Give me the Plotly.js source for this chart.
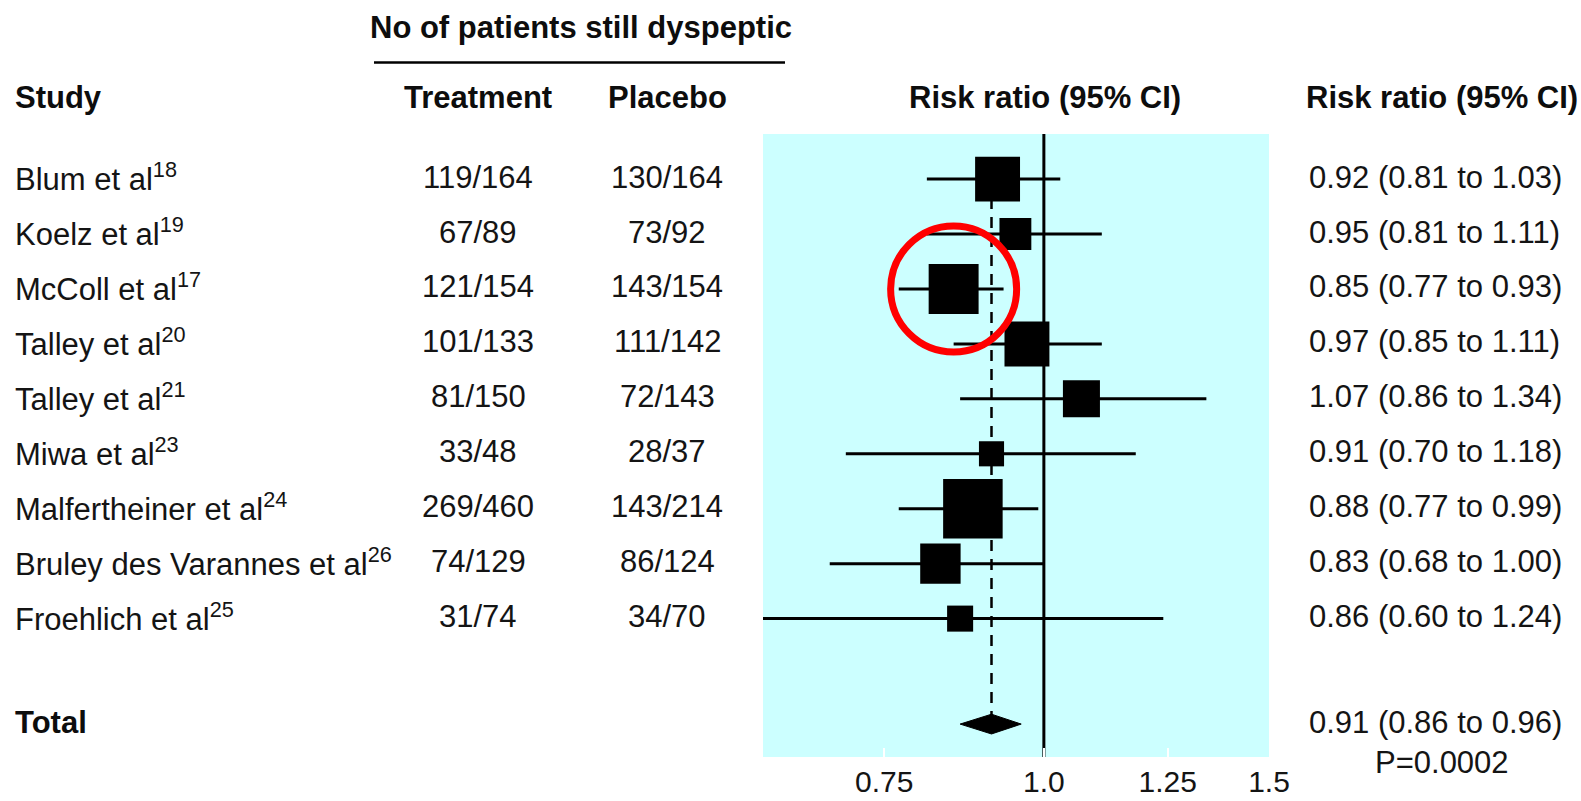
<!DOCTYPE html>
<html><head><meta charset="utf-8">
<script src="https://cdn.plot.ly/plotly-3.0.1.min.js"></script>
<style>html,body{margin:0;padding:0;background:#fff;}#chart{width:1581px;height:801px;}</style>
</head><body><div id="chart"></div>
<script>
// ---- data ----
const studyNames = ['Blum et al','Koelz et al','McColl et al','Talley et al','Talley et al','Miwa et al','Malfertheiner et al','Bruley des Varannes et al','Froehlich et al'];
const studyRefs = [18,19,17,20,21,23,24,26,25];
const treatment = ['119/164','67/89','121/154','101/133','81/150','33/48','269/460','74/129','31/74'];
const placebo = ['130/164','73/92','143/154','111/142','72/143','28/37','143/214','86/124','34/70'];
const riskRatio = [0.92,0.95,0.85,0.97,1.07,0.91,0.88,0.83,0.86];
const ciLow = [0.81,0.81,0.77,0.85,0.86,0.70,0.77,0.68,0.60];
const ciHigh = [1.03,1.11,0.93,1.11,1.34,1.18,0.99,1.00,1.24];
const weightPct = [13.1,6.6,16.2,13.1,8.9,4.1,23.0,10.6,4.4];
const totalRR = 0.91, totalLow = 0.86, totalHigh = 0.96, totalP = 'P=0.0002';
const tickVals = [0.75,1.0,1.25,1.5];
const tickText = ['0.75','1.0','1.25','1.5'];
const highlightIndex = 2;

// ---- layout helpers ----
const FONT = 'Liberation Sans, Arial, Helvetica, sans-serif';
const L = 763, R = 1269, T = 134, B = 757;
const px = x => (x - L) / (R - L);
const py = y => (B - y) / (B - T);
const rows = studyNames.map((_, i) => i);
const totalRow = 9.92;
const fmt = v => v.toFixed(2);
const rrLabel = (r, a, b) => fmt(r) + ' (' + fmt(a) + ' to ' + fmt(b) + ')';

const traces = [];
// line of no effect
traces.push({type:'scatter', mode:'lines', x:[1,1], y:[-2,12], line:{color:'#000', width:3}, hoverinfo:'skip'});
// dashed pooled line
traces.push({type:'scatter', mode:'lines', x:[totalRR,totalRR], y:[0,totalRow], line:{color:'#000', width:2.5, dash:'11px,8px'}, hoverinfo:'skip'});
// studies
traces.push({
  type:'scatter', mode:'markers', x:riskRatio, y:rows,
  marker:{symbol:'square', color:'#000', opacity:1, size:weightPct.map(w => 12.41*Math.sqrt(w)), line:{width:0}},
  error_x:{type:'data', symmetric:false, array:riskRatio.map((r,i)=>ciHigh[i]-r), arrayminus:riskRatio.map((r,i)=>r-ciLow[i]), width:0, thickness:3, color:'#000'},
  hoverinfo:'skip'
});
// pooled diamond
const dh = 0.18;
traces.push({type:'scatter', mode:'lines', x:[totalLow,totalRR,totalHigh,totalRR,totalLow], y:[totalRow,totalRow-dh,totalRow,totalRow+dh,totalRow], fill:'toself', fillcolor:'#000', line:{color:'#000', width:1}, hoverinfo:'skip'});
// highlight circle
traces.push({type:'scatter', mode:'markers', x:[riskRatio[highlightIndex]], y:[rows[highlightIndex]], marker:{symbol:'circle-open', size:126, opacity:1, color:'#ff0000', line:{width:7, color:'#ff0000'}}, cliponaxis:false, hoverinfo:'skip'});

const ann = [];
const txt = (text, x, y, xanchor, opts={}) => ann.push(Object.assign({
  text, xref:'paper', x:px(x), yref:opts.yref||'y', y, xanchor, yanchor:'middle', showarrow:false,
  yshift:(opts.yref ? 0 : 2),
  font:{family:FONT, size:31, color:'#141414'}
}, opts.extra||{}));
const bold = {font:{family:FONT, size:31, color:'#0d0d0d', weight:700}};

rows.forEach(i => {
  txt(studyNames[i] + '<sup>' + studyRefs[i] + '</sup>', 13, rows[i], 'left');
  txt(treatment[i], 478, rows[i], 'center');
  txt(placebo[i], 667, rows[i], 'center');
  txt(rrLabel(riskRatio[i], ciLow[i], ciHigh[i]), 1307, rows[i], 'left');
});
txt('<b>Total</b>', 13, totalRow, 'left', {extra:bold});
txt(rrLabel(totalRR, totalLow, totalHigh), 1307, totalRow, 'left');
txt(totalP, 1442, py(762), 'center', {yref:'paper'});
// headers
txt('<b>No of patients still dyspeptic</b>', 581, py(28), 'center', {yref:'paper', extra:bold});
txt('<b>Study</b>', 13, py(97), 'left', {yref:'paper', extra:bold});
txt('<b>Treatment</b>', 478, py(97), 'center', {yref:'paper', extra:bold});
txt('<b>Placebo</b>', 667, py(97), 'center', {yref:'paper', extra:bold});
txt('<b>Risk ratio (95% CI)</b>', 1045, py(97), 'center', {yref:'paper', extra:bold});
txt('<b>Risk ratio (95% CI)</b>', 1304, py(97), 'left', {yref:'paper', extra:bold});

const layout = {
  width:1581, height:801,
  margin:{l:L, r:1581-R, t:T, b:801-B, pad:0},
  paper_bgcolor:'#fff', plot_bgcolor:'#ccffff', showlegend:false,
  xaxis:{type:'log', range:[Math.log10(0.603), Math.log10(1.5)], tickvals:tickVals, ticktext:tickText,
    ticks:'inside', ticklen:9, tickwidth:2, tickcolor:'#fff', showgrid:false, zeroline:false, showline:false,
    ticklabelstandoff:4,
    tickfont:{family:FONT, size:30, color:'#141414'}, fixedrange:true},
  yaxis:{range:[10.519,-0.821], visible:false, fixedrange:true},
  shapes:[{type:'line', xref:'paper', yref:'paper', x0:px(374), x1:px(785), y0:py(62.5), y1:py(62.5), line:{color:'#000', width:2.5}}],
  annotations:ann
};
Plotly.newPlot('chart', traces, layout, {staticPlot:true, displayModeBar:false});
</script></body></html>
